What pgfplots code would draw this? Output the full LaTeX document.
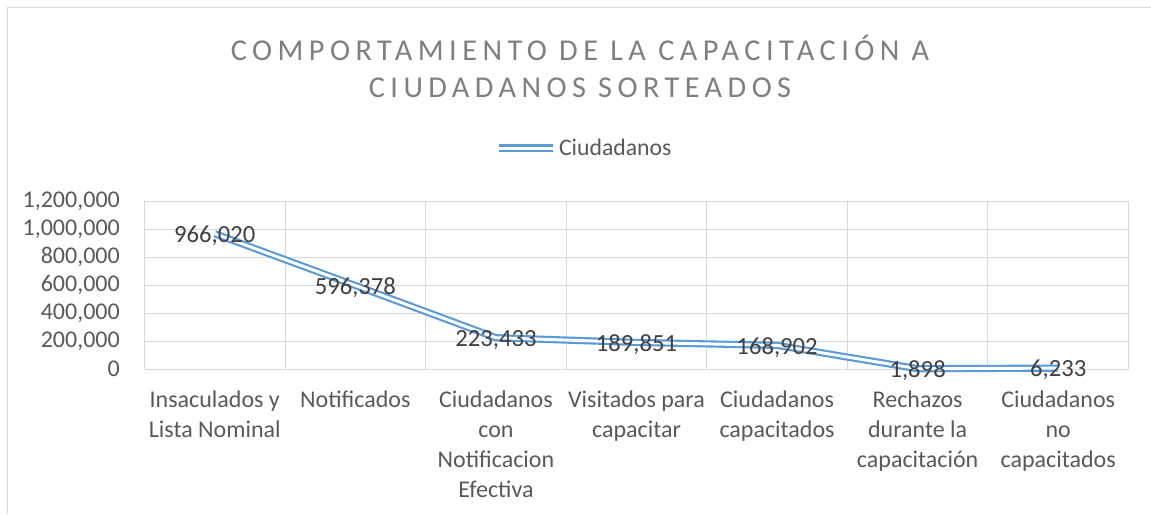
\documentclass[border=0pt]{standalone}
\usepackage{fontspec}
\setmainfont{Carlito}
\newfontfamily\titlefont[LetterSpace=18]{Carlito}
\usepackage{pgfplots}
\pgfplotsset{compat=1.18}
\definecolor{serie}{HTML}{5B9BD5}
\definecolor{txt}{HTML}{404040}
\definecolor{tickc}{HTML}{595959}
\definecolor{gridc}{HTML}{D9D9D9}
\definecolor{ttl}{HTML}{7F7F7F}
\begin{document}
\begin{tikzpicture}
\path[use as bounding box] (0,0) rectangle (863.25pt,385.5pt);
\draw[gridc, line width=0.75pt] (5.25pt,0) -- (5.25pt,379.5pt) -- (863.25pt,379.5pt);
\node[ttl, font=\titlefont\fontsize{22.7}{27}\selectfont] at (435pt,349.5pt) {COMPORTAMIENTO DE LA CAPACITACIÓN A};
\node[ttl, font=\titlefont\fontsize{22.7}{27}\selectfont] at (435pt,319.5pt) {CIUDADANOS SORTEADOS};
\begin{axis}[
  at={(108.375pt,108.75pt)}, anchor=south west,
  scale only axis, width=738pt, height=126pt,
  xmin=-0.5, xmax=6.5, ymin=0, ymax=1200000,
  ytick={0,200000,...,1200000},
  scaled y ticks=false,
  /pgf/number format/.cd, fixed, 1000 sep={,}, assume math mode=true, /pgfplots/.cd,
  xtick={0,...,6},
  xticklabels={{Insaculados y\\Lista Nominal},{Notificados},{Ciudadanos\\con\\Notificacion\\Efectiva},{Visitados para\\capacitar},{Ciudadanos\\capacitados},{Rechazos\\durante la\\capacitación},{Ciudadanos\\no\\capacitados}},
  minor xtick={-0.5,0.5,...,6.5},
  xminorgrids, ymajorgrids,
  grid style={gridc, line width=0.75pt},
  minor grid style={gridc, line width=0.75pt},
  major tick length=0pt, minor tick length=0pt,
  axis line style={draw=none},
  every tick label/.append style={font=\fontsize{18}{22.5}\selectfont, text=tickc},
  xticklabel style={align=center, anchor=north, yshift=-12.5pt},
  yticklabel style={anchor=east, xshift=-15pt},
  legend style={draw=none, fill=none, at={(0.4477,1.315)}, anchor=center, font=\fontsize{17.8}{20}\selectfont, text=tickc},
  legend image code/.code={\draw[#1] (0pt,0pt) -- (40pt,0pt);},
  clip=false,
]
\addplot[serie, line width=1.6pt, double=white, double distance=2.2pt,
  nodes near coords, every node near coord/.append style={anchor=center, yshift=-1.5pt, text=txt, font=\fontsize{18.5}{20}\selectfont}]
  coordinates {(0,966020) (1,596378) (2,223433) (3,189851) (4,168902) (5,1898) (6,6233)};
\addlegendentry{Ciudadanos}
\end{axis}
\end{tikzpicture}
\end{document}
